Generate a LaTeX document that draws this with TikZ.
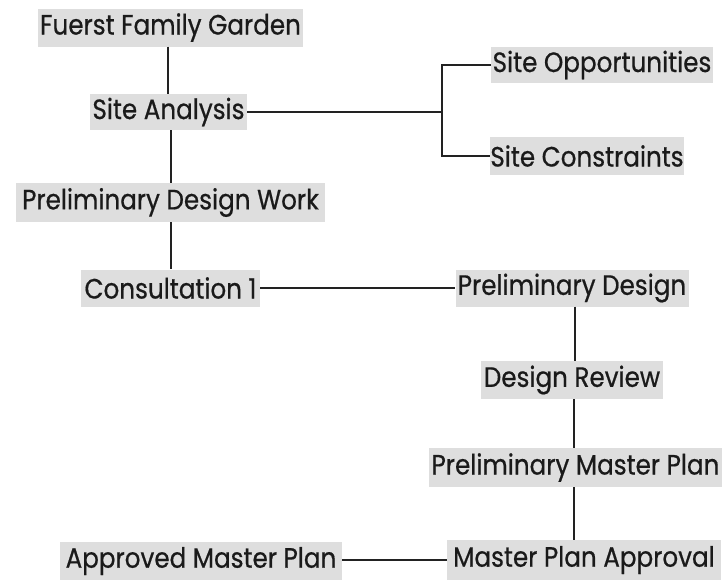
\documentclass[tikz,border=0pt]{standalone}
\usepackage{fontspec}
\setmainfont[FakeStretch=0.88,FakeBold=0.6]{Poppins}
\begin{document}
\begin{tikzpicture}[x=1pt,y=-1pt,
  box/.style={fill=boxgray, inner sep=0pt, minimum height=#1, font=\fontsize{28}{30}\selectfont, text=textdark, anchor=center},
  box/.default=38,
  link/.style={draw=linedark, line width=1.4pt}]
\definecolor{boxgray}{HTML}{DEDEDE}
\definecolor{textdark}{HTML}{1A1A1A}
\definecolor{linedark}{HTML}{222222}
\useasboundingbox (0,0) rectangle (723,581);
\fill[white] (0,0) rectangle (723,581);
\node[box, minimum width=265] (fuerst) at (170.5,27.5) {Fuerst Family Garden};
\node[box=36, minimum width=157] (analysis) at (168.5,112) {Site Analysis};
\node[box=39, minimum width=309] (pdw) at (170.5,202.5) {Preliminary Design Work};
\node[box=37, minimum width=179] (consult) at (170.5,288) {Consultation 1};
\node[box=36, minimum width=222] (opp) at (602,65) {Site Opportunities};
\node[box, minimum width=192] (cons) at (587,156) {Site Constraints};
\node[box=37, minimum width=233] (pdesign) at (572,288) {Preliminary Design};
\node[box, minimum width=182] (review) at (572,380) {Design Review};
\node[box=39, minimum width=293] (pmp) at (575.5,467.5) {Preliminary Master Plan};
\node[box=40, minimum width=274] (mpa) at (584,560) {Master Plan Approval};
\node[box, minimum width=282] (amp) at (201,561) {Approved Master Plan};
\coordinate (br) at (442,112);
\draw[link] (fuerst.south -| 168,0) -- (analysis.north -| 168,0);
\draw[link] (analysis.east) -- (br);
\draw[link] (opp.west) -| (br) |- (cons.west);
\draw[link] (analysis.south -| 171,0) -- (pdw.north -| 171,0);
\draw[link] (pdw.south -| 171,0) -- (consult.north -| 171,0);
\draw[link] (consult.east) -- (consult.east -| pdesign.west);
\draw[link] (pdesign.south -| 575,0) -- (review.north -| 575,0);
\draw[link] (review.south -| 574,0) -- (pmp.north -| 574,0);
\draw[link] (pmp.south -| 574,0) -- (mpa.north -| 574,0);
\draw[link] (mpa.west) -- (mpa.west -| amp.east);
\end{tikzpicture}
\end{document}
